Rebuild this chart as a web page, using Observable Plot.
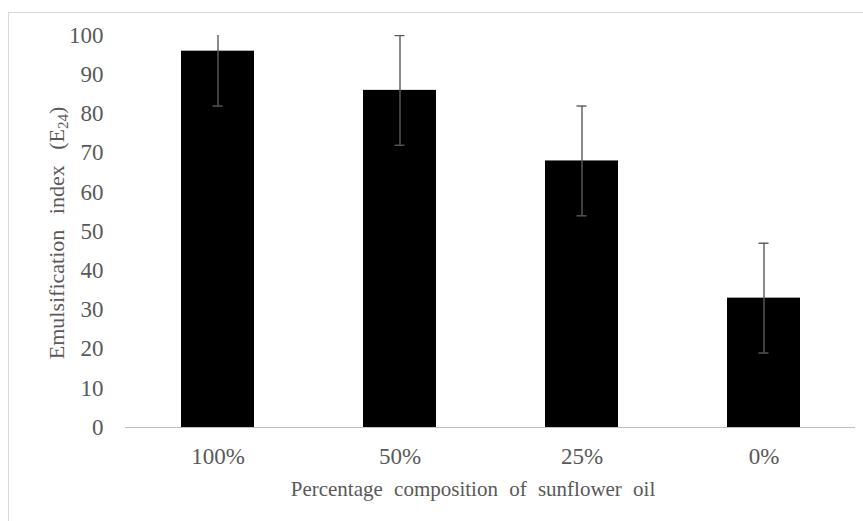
<!DOCTYPE html>
<html><head><meta charset="utf-8">
<script src="https://cdn.jsdelivr.net/npm/d3@7"></script>
<script src="https://cdn.jsdelivr.net/npm/@observablehq/plot@0.6"></script>
<style>
body{margin:0;background:#fff;}
#wrap{position:relative;width:863px;height:521px;overflow:hidden;}
#border{position:absolute;left:8px;top:12px;width:900px;height:600px;border:1px solid #d9d9d9;}
#chart{position:absolute;left:0;top:0;}
</style></head><body>
<div id="wrap"><div id="border"></div><div id="chart"></div></div>
<script>
const categories = ["100%", "50%", "25%", "0%"];
const emulsification = [96, 86, 68, 33];
const errors = [14, 14, 14, 14];
const yTicks = [0, 10, 20, 30, 40, 50, 60, 70, 80, 90, 100];
const xTitle = "Percentage composition of sunflower oil";
const yTitle = "Emulsification index (E";
const ySub = "24";

const data = categories.map((c, i) => ({c, v: emulsification[i], e: errors[i]}));
const errColor = "#5a5a5a";

const chart = Plot.plot({
  width: 863, height: 521,
  marginLeft: 125, marginRight: 8, marginTop: 35, marginBottom: 94,
  style: {fontFamily: "'Liberation Serif', serif", fontSize: "23px", color: "#595959", background: "transparent"},
  x: {domain: categories, paddingInner: 0.6, paddingOuter: 0.3, label: null},
  y: {domain: [0, 100], label: null},
  marks: [
    Plot.axisX({tickSize: 0, tickPadding: 20, label: null, color: "#595959"}),
    Plot.axisY({ticks: yTicks, tickSize: 0, tickPadding: 22, label: null, line: true, stroke: "#bfbfbf", color: "#595959"}),
    Plot.barY(data, {x: "c", y: "v", fill: "black"}),
    Plot.ruleY([0], {stroke: "#bfbfbf", strokeWidth: 1.2}),
    Plot.ruleX(data, {x: "c", y1: d => d.v - d.e, y2: d => d.v + d.e, stroke: errColor, strokeWidth: 1.4, clip: true}),
    Plot.tickY(data, {x: "c", y: d => d.v - d.e, stroke: errColor, strokeWidth: 1.4, insetLeft: 31.5, insetRight: 31.5}),
    Plot.tickY(data, {x: "c", y: d => d.v + d.e, stroke: errColor, strokeWidth: 1.4, insetLeft: 31.5, insetRight: 31.5, clip: true})
  ]
});
document.getElementById("chart").appendChild(chart);

const svg = d3.select(chart);
svg.append("text")
  .attr("x", 473).attr("y", 496)
  .attr("text-anchor", "middle")
  .attr("fill", "#595959")
  .style("font-family", "'Liberation Serif', serif")
  .style("font-size", "21px")
  .style("word-spacing", "6px")
  .text(xTitle);

const yt = svg.append("text")
  .attr("transform", "translate(64,233) rotate(-90)")
  .attr("text-anchor", "middle")
  .attr("fill", "#595959")
  .style("font-family", "'Liberation Serif', serif")
  .style("font-size", "22px")
  .style("word-spacing", "10px");
yt.append("tspan").text(yTitle);
yt.append("tspan").attr("dy", 4).style("font-size", "15px").text(ySub);
yt.append("tspan").attr("dy", -4).text(")");
</script>
</body></html>
